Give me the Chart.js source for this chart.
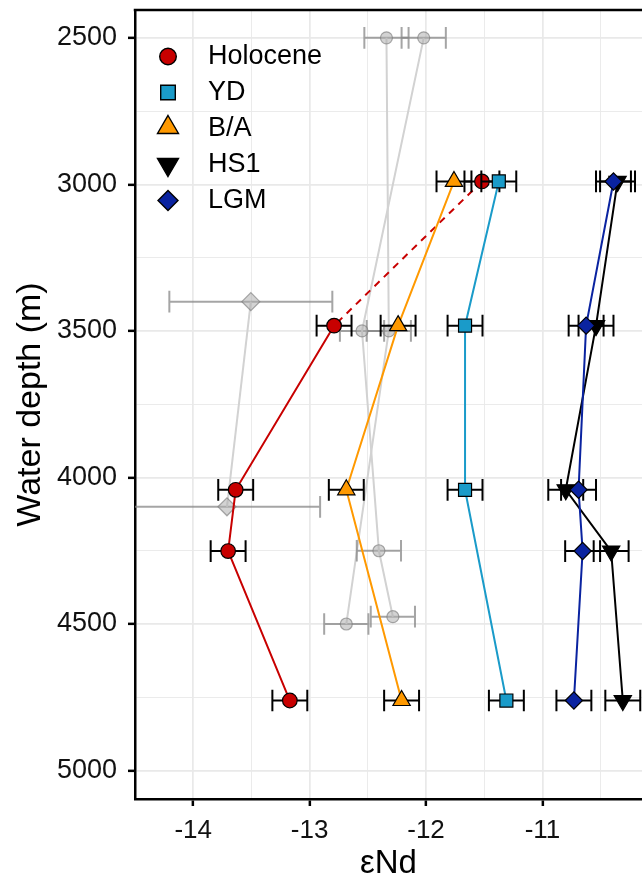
<!DOCTYPE html>
<html><head><meta charset="utf-8">
<script src="https://cdn.jsdelivr.net/npm/chart.js@4.4.0/dist/chart.umd.min.js"></script>
<style>html,body{margin:0;padding:0;background:#fff;overflow:hidden}canvas{display:block}</style>
</head><body>
<canvas id="c" width="642" height="879"></canvas>
<script>
// ---- data ----
const holoceneDepth = [2990, 3482, 4042, 4251, 4761];
const holoceneENd   = [-11.52, -12.79, -13.635, -13.70, -13.17];
const holoceneErr   = [0.15, 0.15, 0.15, 0.15, 0.15];

const ydDepth = [2990, 3482, 4042, 4761];
const ydENd   = [-11.375, -11.665, -11.665, -11.31];
const ydErr   = [0.15, 0.15, 0.15, 0.15];

const baDepth = [2990, 3482, 4042, 4761];
const baENd   = [-11.76, -12.24, -12.685, -12.21];
const baErr   = [0.15, 0.15, 0.15, 0.15];

const hs1Depth = [2990, 3482, 4042, 4251, 4761];
const hs1ENd   = [-10.355, -10.54, -10.80, -10.41, -10.31];
const hs1Err   = [0.15, 0.15, 0.15, 0.15, 0.15];

const lgmDepth = [2990, 3482, 4042, 4251, 4761];
const lgmENd   = [-10.39, -10.625, -10.69, -10.655, -10.73];
const lgmErr   = [0.15, 0.15, 0.15, 0.15, 0.15];

// grey reference profiles
const refADepth = [2500, 3500, 4500];
const refAENd   = [-12.34, -12.32, -12.685];
const refAErr   = [0.19, 0.19, 0.19];

const refBDepth = [2500, 3500, 4250, 4475];
const refBENd   = [-12.02, -12.55, -12.405, -12.285];
const refBErr   = [0.19, 0.19, 0.19, 0.19];

const refCDepth = [3400, 4100];
const refCENd   = [-13.505, -13.71];
const refCErr   = [0.7, 0.8];

const yMajorTicks = [2500, 3000, 3500, 4000, 4500, 5000];
const yMinorTicks = [2750, 3250, 3750, 4250, 4750];
const xMajorTicks = [-14, -13, -12, -11];
const xMinorTicks = [-13.5, -12.5, -11.5, -10.5];

const legendLabels = ['Holocene', 'YD', 'B/A', 'HS1', 'LGM'];

// ---- styling ----
const FONT = '"Liberation Sans", Arial, sans-serif';
const C_HOL = '#c80000', C_YD = '#1a9bc9', C_BA = '#ff9900', C_HS1 = '#000000', C_LGM = '#0a23a0';
const GREY_LINE = '#d2d2d2', GREY_FILL = 'rgba(175,175,175,0.55)', GREY_EDGE = 'rgba(125,125,125,0.65)', GREY_ERR = 'rgba(135,135,135,0.75)';
const CAP_HALF = 37; // metres

function pts(xs, ys) { return xs.map((v, i) => ({ x: v, y: ys[i] })); }

function colored(label, xs, ys, errs, color, style, radius, order, extra) {
  return Object.assign({
    label, data: pts(xs, ys), errX: errs, errColor: '#000',
    borderColor: color, backgroundColor: color, borderWidth: 2,
    pointStyle: style, pointRadius: radius, pointBackgroundColor: color,
    pointBorderColor: '#000', pointBorderWidth: 1.2, order
  }, extra || {});
}
function grey(label, xs, ys, errs, style, radius, order) {
  return {
    label, data: pts(xs, ys), errX: errs, errColor: GREY_ERR,
    borderColor: GREY_LINE, backgroundColor: GREY_FILL, borderWidth: 2,
    pointStyle: style, pointRadius: radius, pointBackgroundColor: GREY_FILL,
    pointBorderColor: GREY_EDGE, pointBorderWidth: 1.2, order
  };
}

const datasets = [
  grey('ref A', refAENd, refADepth, refAErr, 'circle', 6, 12),
  grey('ref B', refBENd, refBDepth, refBErr, 'circle', 6, 11),
  grey('ref C', refCENd, refCDepth, refCErr, 'rectRot', 9, 10),
  colored('Holocene', holoceneENd, holoceneDepth, holoceneErr, C_HOL, 'circle', 7.3, 5, {
    segment: { borderDash: ctx => ctx.p0DataIndex === 0 ? [7, 6] : undefined }
  }),
  colored('YD', ydENd, ydDepth, ydErr, C_YD, 'rect', 9.2, 4),
  colored('B/A', baENd, baDepth, baErr, C_BA, 'triangle', 10, 3),
  colored('HS1', hs1ENd, hs1Depth, hs1Err, C_HS1, 'triangle', 10, 2, { pointRotation: 180 }),
  colored('LGM', lgmENd, lgmDepth, lgmErr, C_LGM, 'rectRot', 8.6, 1)
];

const errorBars = {
  id: 'errorBars',
  beforeDatasetDraw(chart, args) {
    const ds = chart.data.datasets[args.index];
    if (!ds.errX) return;
    const { ctx, chartArea: a, scales: { x, y } } = chart;
    ctx.save();
    ctx.beginPath(); ctx.rect(a.left, a.top, a.width, a.height); ctx.clip();
    ctx.strokeStyle = ds.errColor; ctx.lineWidth = 2; ctx.lineCap = 'butt';
    ds.data.forEach((p, i) => {
      const e = ds.errX[i];
      const x0 = x.getPixelForValue(p.x - e), x1 = x.getPixelForValue(p.x + e);
      const yc = y.getPixelForValue(p.y);
      const ya = y.getPixelForValue(p.y - CAP_HALF), yb = y.getPixelForValue(p.y + CAP_HALF);
      ctx.beginPath();
      ctx.moveTo(x0, yc); ctx.lineTo(x1, yc);
      ctx.moveTo(x0, ya); ctx.lineTo(x0, yb);
      ctx.moveTo(x1, ya); ctx.lineTo(x1, yb);
      ctx.stroke();
    });
    ctx.restore();
  }
};

function legendMarker(ctx, label, cx, cy) {
  ctx.beginPath();
  if (label === 'Holocene') { ctx.fillStyle = C_HOL; ctx.arc(cx, cy, 8.3, 0, Math.PI * 2); }
  else if (label === 'YD') { ctx.fillStyle = C_YD; ctx.rect(cx - 7.3, cy - 7.3, 14.6, 14.6); }
  else if (label === 'B/A') { ctx.fillStyle = C_BA; ctx.moveTo(cx, cy - 11); ctx.lineTo(cx + 10.5, cy + 7); ctx.lineTo(cx - 10.5, cy + 7); ctx.closePath(); }
  else if (label === 'HS1') { ctx.fillStyle = C_HS1; ctx.moveTo(cx, cy + 10); ctx.lineTo(cx + 10.5, cy - 8); ctx.lineTo(cx - 10.5, cy - 8); ctx.closePath(); }
  else { ctx.fillStyle = C_LGM; ctx.moveTo(cx, cy - 10); ctx.lineTo(cx + 10, cy); ctx.lineTo(cx, cy + 10); ctx.lineTo(cx - 10, cy); ctx.closePath(); }
  ctx.fill();
  ctx.lineWidth = 1.4; ctx.strokeStyle = '#000'; ctx.stroke();
}

const panelExtras = {
  id: 'panelExtras',
  afterDraw(chart) {
    const { ctx, chartArea: a } = chart;
    ctx.save();
    // top panel border
    ctx.strokeStyle = '#000'; ctx.lineWidth = 2.5;
    ctx.beginPath(); ctx.moveTo(a.left - 1.25, a.top); ctx.lineTo(a.right, a.top); ctx.stroke();
    // legend inside the panel
    const rowY = [56.5, 92.5, 128.5, 164.5, 200.5];
    const markerDy = [0, 0, -2, 2, 0];
    ctx.font = '27px ' + FONT; ctx.textBaseline = 'middle'; ctx.textAlign = 'left'; ctx.fillStyle = '#000';
    legendLabels.forEach((lab, i) => {
      legendMarker(ctx, lab, 168, rowY[i] + markerDy[i]);
      ctx.fillStyle = '#000';
      ctx.fillText(lab, 208, rowY[i]);
    });
    ctx.restore();
  }
};

const gridWidth = (major) => (ctx) => (major.includes(ctx.tick && ctx.tick.value) ? 1.7 : 0.9);
const tickCol = (major) => (ctx) => (major.includes(ctx.tick && ctx.tick.value) ? '#000' : 'rgba(0,0,0,0)');

new Chart(document.getElementById('c'), {
  type: 'line',
  data: { datasets },
  plugins: [errorBars, panelExtras],
  options: {
    responsive: false, animation: false, devicePixelRatio: 1, events: [],
    layout: { autoPadding: false, padding: { left: 0, right: 0, top: 10, bottom: 0 } },
    plugins: { legend: { display: false }, tooltip: { enabled: false } },
    scales: {
      x: {
        type: 'linear', min: -14.5, max: -10.145,
        afterBuildTicks: (axis) => { axis.ticks = xMajorTicks.concat(xMinorTicks).sort((a, b) => a - b).map(v => ({ value: v })); },
        afterFit: (axis) => { axis.height = 80; axis.paddingLeft = 0; axis.paddingRight = 0; },
        ticks: { callback: (v) => xMajorTicks.includes(v) ? String(v) : '', font: { family: FONT, size: 26 }, color: '#111', padding: 9, maxRotation: 0, autoSkip: false },
        grid: { color: '#e9e9e9', lineWidth: gridWidth(xMajorTicks), tickColor: tickCol(xMajorTicks), tickWidth: 2.5, tickLength: 7 },
        border: { display: true, color: '#000', width: 2.5 },
        title: { display: true, text: 'εNd', color: '#000', font: { family: FONT, size: 33, lineHeight: 0.9 }, padding: 0 }
      },
      y: {
        type: 'linear', reverse: true, min: 2405, max: 5097,
        afterBuildTicks: (axis) => { axis.ticks = yMajorTicks.concat(yMinorTicks).sort((a, b) => a - b).map(v => ({ value: v })); },
        afterFit: (axis) => { axis.width = 135; axis.paddingTop = 0; axis.paddingBottom = 0; },
        ticks: { callback: (v) => yMajorTicks.includes(v) ? String(v) : '', font: { family: FONT, size: 27 }, color: '#111', padding: 11, autoSkip: false },
        grid: { color: '#e9e9e9', lineWidth: gridWidth(yMajorTicks), tickColor: tickCol(yMajorTicks), tickWidth: 2.5, tickLength: 7 },
        border: { display: true, color: '#000', width: 2.5 },
        title: { display: true, text: 'Water depth (m)', color: '#000', font: { family: FONT, size: 34, lineHeight: 1.2 }, padding: { top: 10, bottom: 0 } }
      }
    }
  }
});
</script>
</body></html>
